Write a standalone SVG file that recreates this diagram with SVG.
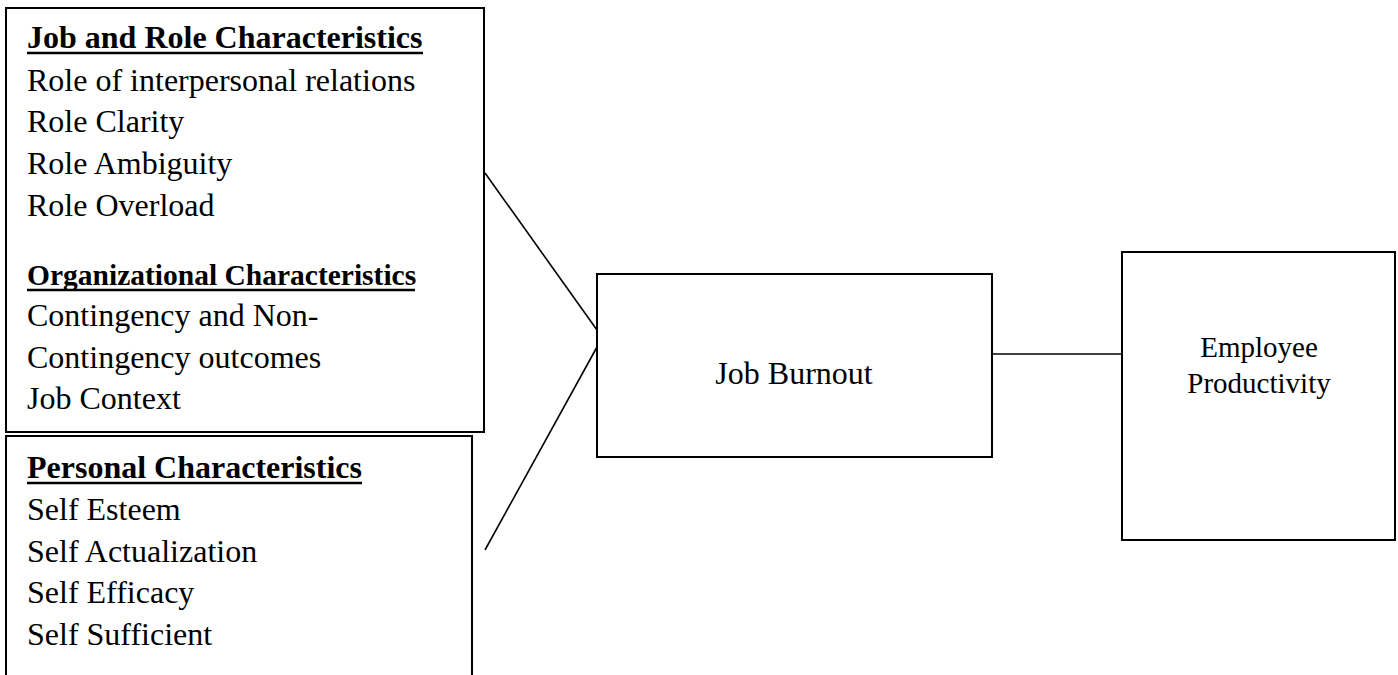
<svg xmlns="http://www.w3.org/2000/svg" width="1398" height="675" viewBox="0 0 1398 675">
<style>
.box{fill:#fff;stroke:#000;stroke-width:2}
.t{font-family:"Liberation Serif","Times New Roman",serif;font-size:32px;fill:#000}
.h{font-family:"Liberation Serif","Times New Roman",serif;font-size:32px;font-weight:bold;fill:#000}
.c{font-family:"Liberation Serif","Times New Roman",serif;fill:#000;text-anchor:middle}
.ul{stroke:#000;stroke-width:2.5}
.conn{stroke:#000;stroke-width:1.6;fill:none}
</style>
<rect width="1398" height="675" fill="#fff"/>
<g id="connectors">
<line class="conn" x1="485" y1="173" x2="597" y2="330"/>
<line class="conn" x1="597" y1="347" x2="485" y2="550"/>
<line class="conn" x1="992" y1="354" x2="1122" y2="354"/>
</g>
<g id="job-role">
<rect class="box" x="6" y="8" width="478" height="424"/>
<text class="h" x="27" y="48">Job and Role Characteristics</text>
<line class="ul" x1="27" y1="53" x2="423" y2="53"/>
<text class="t" x="27" y="91">Role of interpersonal relations</text>
<text class="t" x="27" y="132">Role Clarity</text>
<text class="t" x="27" y="174">Role Ambiguity</text>
<text class="t" x="27" y="216">Role Overload</text>
<text class="h" x="27" y="285" style="font-size:29.5px">Organizational Characteristics</text>
<line class="ul" x1="27" y1="290" x2="415" y2="290"/>
<text class="t" x="27" y="326">Contingency and Non-</text>
<text class="t" x="27" y="368">Contingency outcomes</text>
<text class="t" x="27" y="409">Job Context</text>
</g>
<g id="personal">
<rect class="box" x="6" y="436" width="466" height="260"/>
<text class="h" x="27" y="478">Personal Characteristics</text>
<line class="ul" x1="27" y1="483" x2="362" y2="483"/>
<text class="t" x="27" y="520">Self Esteem</text>
<text class="t" x="27" y="562">Self Actualization</text>
<text class="t" x="27" y="603">Self Efficacy</text>
<text class="t" x="27" y="645">Self Sufficient</text>
</g>
<g id="job-burnout">
<rect class="box" x="597" y="274" width="395" height="183"/>
<text class="c" x="794" y="384" font-size="32">Job Burnout</text>
</g>
<g id="employee-productivity">
<rect class="box" x="1122" y="252" width="273" height="288"/>
<text class="c" x="1259" y="357" font-size="29">Employee</text>
<text class="c" x="1259" y="393" font-size="29">Productivity</text>
</g>
</svg>
